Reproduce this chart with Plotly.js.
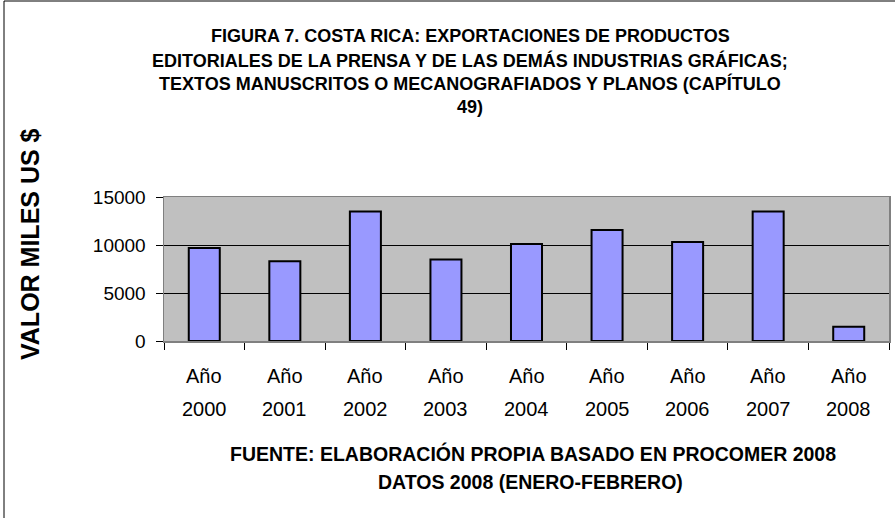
<!DOCTYPE html>
<html>
<head>
<meta charset="utf-8">
<script src="https://cdn.plot.ly/plotly-3.0.1.min.js"></script>
<style>html,body{margin:0;padding:0;background:#fff;}#chart{width:895px;height:518px;}</style>
</head>
<body>
<div id="chart"></div>
<script>
// ---- data ----
var categories = ["2000", "2001", "2002", "2003", "2004", "2005", "2006", "2007", "2008"];
var categoryPrefix = "Año";
var values = [9700, 8300, 13500, 8500, 10100, 11550, 10300, 13500, 1480];
var yTickValues = [0, 5000, 10000, 15000];
var titleLines = [
  "FIGURA 7. COSTA RICA: EXPORTACIONES DE PRODUCTOS",
  "EDITORIALES DE LA PRENSA Y DE LAS DEMÁS INDUSTRIAS GRÁFICAS;",
  "TEXTOS MANUSCRITOS O MECANOGRAFIADOS Y PLANOS (CAPÍTULO",
  "49)"
];
var yTitle = "VALOR MILES US $";
var footLines = [
  "FUENTE: ELABORACIÓN PROPIA BASADO EN PROCOMER 2008",
  "DATOS 2008 (ENERO-FEBRERO)"
];

// ---- layout geometry (pixels) ----
var W = 895, H = 518;
var L = 164, R = 889, T = 197, B = 341;
function px(x) { return (x - L) / (R - L); }
function py(y) { return (B - y) / (B - T); }
var FONT = '"Liberation Sans", Arial, sans-serif';

var annotations = [];
var titleY = [36, 60, 84, 107];
titleLines.forEach(function (t, i) {
  annotations.push({text: '<b>' + t + '</b>', xref: 'paper', yref: 'paper',
    x: px(470), y: py(titleY[i]), xanchor: 'center', yanchor: 'middle',
    showarrow: false, font: {family: FONT, size: 18, color: '#000'}});
});
var footY = [453, 482];
var footX = [533, 530];
footLines.forEach(function (t, i) {
  annotations.push({text: '<b>' + t + '</b>', xref: 'paper', yref: 'paper',
    x: px(footX[i]), y: py(footY[i]), xanchor: 'center', yanchor: 'middle',
    showarrow: false, font: {family: FONT, size: 19.5, color: '#000'}});
});
annotations.push({text: '<b>' + yTitle + '</b>', xref: 'paper', yref: 'paper',
  x: px(30), y: py(244), xanchor: 'center', yanchor: 'middle', textangle: -90,
  showarrow: false, font: {family: FONT, size: 25, color: '#000'}});
categories.forEach(function (c, i) {
  annotations.push({text: categoryPrefix, xref: 'x', yref: 'paper', x: i, y: 0,
    yshift: -35, xanchor: 'center', yanchor: 'middle', showarrow: false,
    font: {family: FONT, size: 20, color: '#000'}});
  annotations.push({text: c, xref: 'x', yref: 'paper', x: i, y: 0,
    yshift: -68, xanchor: 'center', yanchor: 'middle', showarrow: false,
    font: {family: FONT, size: 20, color: '#000'}});
});

var trace = {
  type: 'bar', x: categories, y: values,
  marker: {color: '#9999ff', line: {color: '#000000', width: 2}},
  hoverinfo: 'x+y'
};

var layout = {
  width: W, height: H,
  margin: {l: L, r: W - R, t: T, b: H - B, pad: 0},
  paper_bgcolor: '#ffffff', plot_bgcolor: '#c0c0c0',
  showlegend: false, bargap: 0.615,
  font: {family: FONT, color: '#000'},
  xaxis: {type: 'category', range: [-0.5, categories.length - 0.5], autorange: false,
    showticklabels: false, ticks: 'outside', tickson: 'boundaries',
    ticklen: 7, tickcolor: '#000', tickwidth: 1, showgrid: false,
    showline: true, linecolor: '#808080', linewidth: 1.5, mirror: true, zeroline: false},
  yaxis: {range: [0, 15000], autorange: false, tickvals: yTickValues, tickformat: 'd',
    ticks: 'outside', ticklen: 7,
    tickcolor: '#000', tickwidth: 1, showgrid: true, gridcolor: '#000000', gridwidth: 1,
    showline: true, linecolor: '#808080', linewidth: 1.5, mirror: true, zeroline: false,
    tickfont: {family: FONT, size: 19, color: '#000'}, ticklabelstandoff: 6},
  annotations: annotations,
  shapes: [
    {type: 'line', xref: 'paper', yref: 'paper', x0: px(4), x1: px(4), y0: py(1), y1: py(H + 5),
      line: {color: '#000', width: 1}},
    {type: 'line', xref: 'paper', yref: 'paper', x0: px(4), x1: px(W + 5), y0: py(1), y1: py(1),
      line: {color: '#000', width: 1}}
  ]
};

Plotly.newPlot('chart', [trace], layout, {displayModeBar: false, staticPlot: true});
</script>
</body>
</html>
